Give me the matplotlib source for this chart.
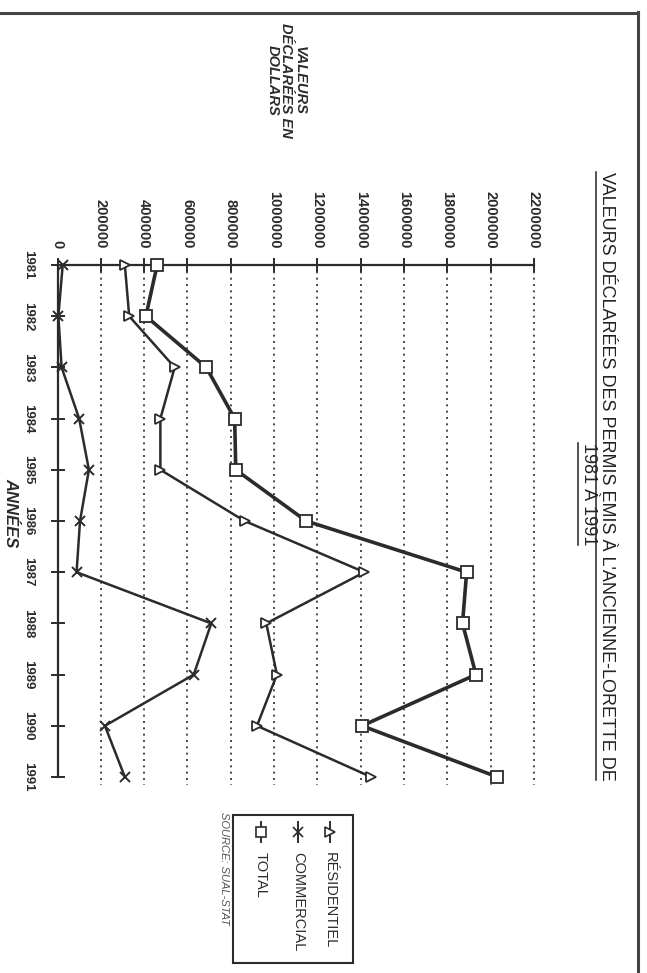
import matplotlib
matplotlib.use("Agg")
import matplotlib.pyplot as plt
from matplotlib.lines import Line2D
from matplotlib.patches import Rectangle

# Valeurs declarees des permis (dollars)
annees = [1981, 1982, 1983, 1984, 1985, 1986, 1987, 1988, 1989, 1990, 1991]
residentiel = [311000, 331000, 541000, 475000, 475000, 864000, 1417000, 964000, 1013000, 921000, 1448000]
commercial = [24000, 4000, 19000, 100000, 145000, 104000, 88000, 710000, 629000, 219000, 311000]
total = [460000, 408000, 687000, 818000, 823000, 1148000, 1889000, 1870000, 1932000, 1406000, 2031000]
valeur_ticks = list(range(0, 2200001, 200000))

W, H = 647, 973
ink = "#2b2b2b"
plt.rcParams['font.family'] = ['Liberation Sans', 'DejaVu Sans']


def fx(px):
    return px / W


def fy(py):
    return 1 - py / H


fig = plt.figure(figsize=(W / 100, H / 100), dpi=100)
fig.patch.set_facecolor("white")

# the chart is printed turned a quarter turn: values run left->right, years top->bottom
ax = fig.add_axes([fx(57.5), fy(777), fx(534) - fx(57.5), (777 - 265) / H])
ax.set_xlim(0, 2200000)
ax.set_ylim(1991, 1981)

ax.vlines(valeur_ticks[1:], 1981, 1991.15, colors=ink, linestyles=(0, (1.2, 2.6)),
          linewidth=1.2, clip_on=False, zorder=1)

ax.plot(residentiel, annees, color=ink, lw=1.8, marker='>', ms=7.5,
        mfc='white', mec=ink, mew=1.3, zorder=3, clip_on=False)
ax.plot(commercial, annees, color=ink, lw=1.8, marker='x', ms=7.5,
        mec=ink, mew=1.4, zorder=3, clip_on=False)
ax.plot(total, annees, color=ink, lw=2.6, marker='s', ms=8,
        mfc='white', mec=ink, mew=1.3, zorder=4, clip_on=False)

for s in ['right', 'bottom']:
    ax.spines[s].set_visible(False)
for s in ['left', 'top']:
    ax.spines[s].set_linewidth(1.6)
    ax.spines[s].set_color(ink)

ax.xaxis.tick_top()
ax.set_xticks(valeur_ticks)
ax.set_xticklabels([str(v) for v in valeur_ticks], rotation=-90,
                   fontsize=10.5, fontweight='bold', color=ink)
ax.tick_params(axis='x', direction='inout', length=10, width=1.4, pad=7, color=ink)

ax.set_yticks(annees)
ax.set_yticklabels([str(a) for a in annees], rotation=-90, va='center',
                   fontsize=9.5, fontweight='bold', color=ink)
ax.tick_params(axis='y', direction='inout', length=10, width=1.4, pad=12, color=ink)
ax.set_facecolor('none')

# axis titles
fig.text(fx(11), fy(513), "ANNÉES", rotation=-90, ha='center', va='center',
         fontsize=12, fontweight='bold', fontstyle='italic', color=ink)
fig.text(fx(286), fy(80), "VALEURS\nDÉCLARÉES EN\nDOLLARS", rotation=-90,
         ha='center', va='center', multialignment='center', linespacing=0.95,
         fontsize=10.5, fontweight='bold', fontstyle='italic', color=ink)

# title
t1 = fig.text(fx(606), fy(476), "VALEURS DÉCLARÉES DES PERMIS EMIS À L'ANCIENNE-LORETTE DE",
              rotation=-90, ha='center', va='center', fontsize=13, color="#222")
t2 = fig.text(fx(588), fy(494), "1981 À 1991", rotation=-90, ha='center', va='center',
              fontsize=13, color="#222")

# legend, drawn by hand since it is turned too
fig.add_artist(Rectangle((fx(233), fy(963)), fx(353) - fx(233), (963 - 815) / H,
                         transform=fig.transFigure, fill=False, ec=ink, lw=1.5))
legende = [("RÉSIDENTIEL", '>', 330), ("COMMERCIAL", 'x', 298), ("TOTAL", 's', 261)]
for nom, mk, xp in legende:
    fig.add_artist(Line2D([fx(xp), fx(xp)], [fy(822), fy(842)], transform=fig.transFigure,
                          color=ink, lw=1.4))
    fig.add_artist(Line2D([fx(xp)], [fy(832)], transform=fig.transFigure, marker=mk,
                          ms=6.5, mfc='white', mec=ink, mew=1.2, ls='none'))
    fig.text(fx(xp), fy(852), nom, rotation=-90, ha='center', va='top',
             fontsize=10.5, color=ink)

fig.text(fx(224), fy(812), "SOURCE: SUAL-STAT", rotation=-90, ha='center', va='top',
         fontsize=8, fontstyle='italic', color="#555")

# page frame
fig.add_artist(Line2D([0, fx(638)], [fy(12.7), fy(12.7)], transform=fig.transFigure,
                      color="#444", lw=2.2))
fig.add_artist(Line2D([fx(637.5), fx(637.5)], [fy(12), 0], transform=fig.transFigure,
                      color="#444", lw=2.2))

# underline the title lines
fig.canvas.draw()
for t in (t1, t2):
    bb = t.get_window_extent()
    fig.add_artist(Line2D([fx(bb.x0 - 1.5), fx(bb.x0 - 1.5)], [bb.y0 / H, bb.y1 / H],
                          transform=fig.transFigure, color="#222", lw=1.1))

fig.savefig("out.png", dpi=100)
